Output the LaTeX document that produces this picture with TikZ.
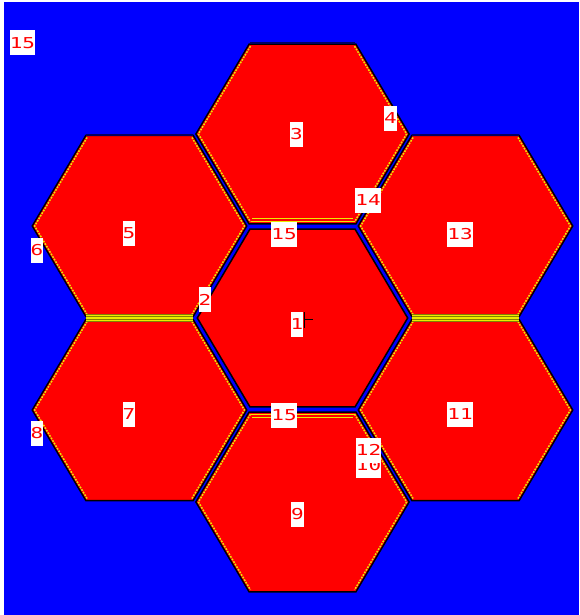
\documentclass[tikz,border=0pt]{standalone}
\usepackage{fontspec}
\usepackage{graphicx}
\newfontfamily\labfont{DejaVu Sans Mono}
\definecolor{bgblue}{RGB}{0,0,255}
\definecolor{hexred}{RGB}{255,0,0}
\definecolor{rimyellow}{RGB}{235,235,0}
\definecolor{oliveband}{RGB}{130,130,0}
\definecolor{navyedge}{RGB}{0,0,100}
\newcommand\lbl[1]{\scalebox{1.4}[1]{#1}}
\tikzset{
  hexcell/.pic={\path[pic actions] (-109,0) -- (-54.5,-92) -- (54.5,-92) -- (109,0) -- (54.5,92) -- (-54.5,92) -- cycle;},
  hexdiag/.pic={\path[pic actions] (-54.5,-92) -- (-109,0) -- (-54.5,92) (54.5,-92) -- (109,0) -- (54.5,92);},
  cell/.style={fill=hexred, draw=black, line width=1.5pt, line join=miter},
  rim/.style={draw=rimyellow, line width=1.5pt, dash pattern=on 1.8pt off 1.2pt},
  ystripe/.style={draw=rimyellow, line width=1.1pt},
  topedge/.style={draw=navyedge, line width=2pt},
  band/.style={fill=oliveband},
  lab/.style={fill=white, text=hexred, inner sep=0pt, minimum height=25pt,
              font=\labfont\fontsize{15}{15}\selectfont},
  tick/.style={draw=black, line width=1pt}
}
\begin{document}
\begin{tikzpicture}[x=1pt, y=-1pt]
\useasboundingbox (0,0) rectangle (579,615);
\fill[white] (0,0) rectangle (579,615);
\fill[bgblue] (4,2) rectangle (579,615);

% side hexes
\pic[cell, scale=0.984] at (139.5,226) {hexcell};
\pic[cell, scale=0.984] at (139.5,410) {hexcell};
\pic[cell, scale=0.984] at (465.5,226) {hexcell};
\pic[cell, scale=0.984] at (465.5,410) {hexcell};
% centre column
\pic[cell, scale=0.978] at (302.5,134) {hexcell};
\pic[cell, scale=0.965] at (302.5,318) {hexcell};
\pic[cell, scale=0.978] at (302.5,502) {hexcell};

% yellow rims on slanted edges
\pic[rim, scale=0.962] at (139.5,226) {hexdiag};
\pic[rim, scale=0.962] at (139.5,410) {hexdiag};
\pic[rim, scale=0.962] at (465.5,226) {hexdiag};
\pic[rim, scale=0.962] at (465.5,410) {hexdiag};
\pic[rim, scale=0.955] at (302.5,134) {hexdiag};
\pic[rim, scale=0.955] at (302.5,502) {hexdiag};

% dark top edges of the side hexes
\draw[topedge] (86,134.5) -- (193,134.5);
\draw[topedge] (412,134.5) -- (519,134.5);
\draw[topedge] (250,43.5) -- (355,43.5);

% striped shared edges
\draw[ystripe] (250.5,221.3) -- (354.5,221.3);
\draw[ystripe] (252,218.8) -- (353,218.8);
\draw[ystripe] (250.5,414.7) -- (354.5,414.7);
\draw[ystripe] (252,417.2) -- (353,417.2);

\fill[band] (86,314.3) rectangle (193,321.7);
\draw[ystripe] (86,315.4) -- (193,315.4);
\draw[ystripe] (86,318) -- (193,318);
\draw[ystripe] (86,320.6) -- (193,320.6);
\fill[band] (412,314.3) rectangle (519,321.7);
\draw[ystripe] (412,315.4) -- (519,315.4);
\draw[ystripe] (412,318) -- (519,318);
\draw[ystripe] (412,320.6) -- (519,320.6);

% labels
\node[lab] (l15a) at (22.5,43) {\lbl{15}};
\node[lab] (l3) at (296.5,134.5) {\lbl{3}};
\node[lab] (l4) at (390.5,118.5) {\lbl{4}};
\node[lab] (l14) at (368,200) {\lbl{14}};
\node[lab] (l5) at (129,233.5) {\lbl{5}};
\node[lab] (l6) at (37,250) {\lbl{6}};
\node[lab] (l13) at (460,234) {\lbl{13}};
\node[lab] (l15b) at (284,234.5) {\lbl{15}};
\node[lab] (l2) at (205,299.5) {\lbl{2}};
\node[lab] (l1) at (297,324) {\lbl{1}};
\node[lab] (l7) at (129,414.5) {\lbl{7}};
\node[lab] (l8) at (37,433) {\lbl{8}};
\node[lab] (l15c) at (284,415.5) {\lbl{15}};
\node[lab] (l11) at (460,414.5) {\lbl{11}};
\node[lab] (l10) at (368.5,465.5) {\lbl{10}};
\node[lab] (l12) at (368.5,450) {\lbl{12}};
\node[lab] (l9) at (297.5,514.5) {\lbl{9}};

% small mark beside label 1
\coordinate (ta) at (304,312);
\coordinate (tb) at (304,328);
\coordinate (tc) at (304,319);
\coordinate (td) at (313,319);
\draw[tick] (ta) -- (tb);
\draw[tick] (tc) -- (td);
\end{tikzpicture}
\end{document}
